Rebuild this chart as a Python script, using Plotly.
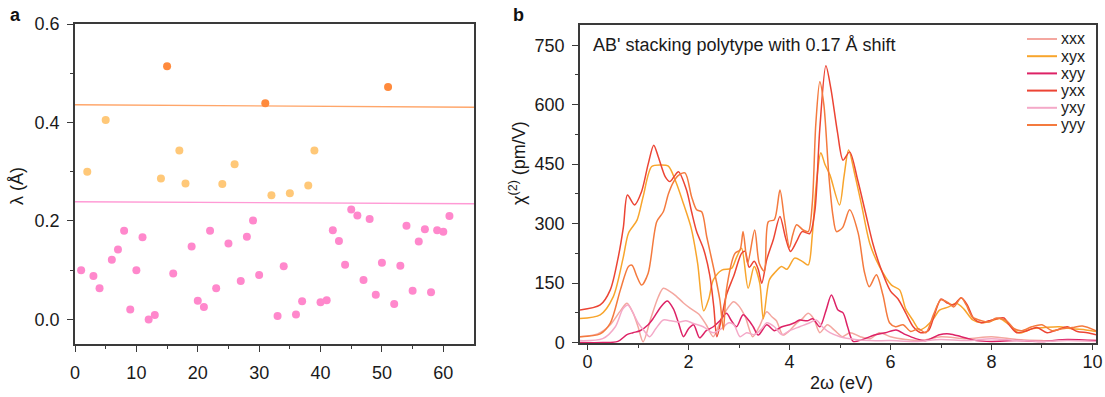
import plotly.graph_objects as go

W, H = 1105, 397
FONT = "Arial, Liberation Sans, sans-serif"

def px(X):
    return X / W

def py(Y):
    return 1 - Y / H

# ---------------- Panel a data ----------------
pink_x = [1, 3, 4, 6, 7, 8, 9, 10, 11, 12, 13, 16, 19, 20, 21, 22, 23, 25, 27, 28, 29, 30,
          33, 34, 36, 37, 40, 41, 42, 43, 44, 45, 46, 47, 48, 49, 50, 52, 53, 54, 55, 56,
          57, 58, 59, 60, 61]
pink_y = [0.100, 0.088, 0.063, 0.121, 0.142, 0.180, 0.020, 0.100, 0.167, 0.000, 0.009, 0.093,
          0.148, 0.038, 0.025, 0.180, 0.063, 0.154, 0.078, 0.168, 0.201, 0.090,
          0.007, 0.108, 0.010, 0.037, 0.035, 0.039, 0.181, 0.159, 0.111, 0.223, 0.211, 0.080,
          0.204, 0.050, 0.115, 0.031, 0.109, 0.190, 0.058, 0.158, 0.183, 0.055, 0.181, 0.178,
          0.210]
light_x = [2, 5, 14, 17, 18, 24, 26, 32, 35, 38, 39]
light_y = [0.300, 0.405, 0.286, 0.343, 0.276, 0.275, 0.315, 0.252, 0.256, 0.272, 0.343]
dark_x = [15, 31, 51]
dark_y = [0.514, 0.439, 0.472]

line_x = [0, 65]
orange_line_y = [0.436, 0.431]
pink_line_y = [0.239, 0.235]

# ---------------- Panel b data ----------------
names = ["xxx", "xyx", "xyy", "yxx", "yxy", "yyy"]
colors = ["#F4A7A0", "#F8A52C", "#DD2266", "#EC4434", "#F4A9C8", "#F47A3E"]

xxx_x = [-0.15, 0.2, 0.45, 0.65, 0.78, 0.9, 1.0, 1.1, 1.25, 1.4, 1.5, 1.62, 1.75, 1.9, 2.03,
         2.2, 2.35, 2.49, 2.62, 2.75, 2.89, 2.98, 3.12, 3.27, 3.4, 3.55, 3.65, 3.74, 3.87, 4.0,
         4.14, 4.25, 4.37, 4.48, 4.6, 4.75, 4.9, 5.05, 5.2, 5.4, 5.6, 5.78, 6.0, 6.3, 6.6, 7.0,
         7.5, 8.0, 8.5, 9.0, 9.5, 10.07]
xxx_y = [15, 22, 45, 80, 99, 75, 40, 2, 60, 115, 137, 130, 118, 100, 87, 72, 45, 15, 50, 82,
         103, 95, 66, 15, 40, 78, 65, 55, 19, 30, 49, 60, 74, 60, 25, 45, 30, 15, 25, 15, 10,
         25, 15, 8, 5, 15, 10, 15, 8, 5, 6, 5]

xyx_x = [-0.15, 0.25, 0.51, 0.71, 0.81, 0.98, 1.1, 1.27, 1.45, 1.6, 1.75, 1.9, 2.05, 2.18,
         2.3, 2.4, 2.49, 2.66, 2.85, 2.95, 3.05, 3.18, 3.3, 3.41, 3.48, 3.6, 3.72, 3.84, 3.95,
         4.1, 4.25, 4.37, 4.45, 4.53, 4.62, 4.7, 4.8, 4.99, 5.08, 5.17, 5.3, 5.42, 5.59, 5.78,
         6.02, 6.18, 6.3, 6.44, 6.58, 6.7, 6.85, 6.97, 7.15, 7.3, 7.45, 7.63, 7.8, 7.96, 8.16,
         8.35, 8.55, 8.8, 9.05, 9.34, 9.6, 9.87, 10.07]
xyx_y = [61, 70, 116, 217, 276, 309, 368, 444, 448, 445, 405, 350, 290, 200, 80, 110, 158, 183,
         187, 215, 238, 137, 192, 150, 60, 158, 178, 192, 185, 213, 205, 196, 270, 400, 479,
         450, 423, 347, 420, 486, 420, 351, 250, 192, 145, 133, 85, 57, 32, 40, 60, 82, 90, 99,
         85, 57, 50, 53, 61, 45, 24, 35, 38, 40, 35, 32, 28]

xyy_x = [-0.15, 0.3, 0.6, 0.78, 0.9, 1.04, 1.2, 1.3, 1.45, 1.58, 1.7, 1.8, 1.9, 2.0, 2.1, 2.22,
         2.35, 2.49, 2.62, 2.75, 2.85, 2.95, 3.08, 3.2, 3.28, 3.38, 3.55, 3.7, 3.85, 4.0, 4.1,
         4.2, 4.35, 4.46, 4.6, 4.72, 4.83, 4.96, 5.06, 5.15, 5.26, 5.45, 5.7, 5.9, 6.11, 6.3,
         6.5, 6.7, 6.97, 7.17, 7.4, 7.7, 8.0, 8.5, 9.0, 9.5, 10.07]
xyy_y = [0, 0, 3, 20, 25, 30, 45, 61, 90, 105, 85, 50, 15, 35, 45, 12, 30, 40, 55, 74, 55, 40,
         70, 55, 40, 19, 45, 30, 40, 45, 50, 57, 55, 60, 40, 80, 120, 82, 75, 40, 3, 8, 20, 25,
         32, 20, 10, 5, 20, 22, 15, 5, 3, 5, 3, 8, 5]

yxx_x = [-0.15, 0.25, 0.45, 0.61, 0.71, 0.79, 0.93, 1.07, 1.2, 1.31, 1.4, 1.54, 1.63, 1.72,
         1.8, 1.96, 2.06, 2.16, 2.3, 2.42, 2.5, 2.56, 2.65, 2.75, 2.9, 3.05, 3.12, 3.2, 3.3,
         3.38, 3.45, 3.55, 3.68, 3.81, 3.92, 4.02, 4.14, 4.25, 4.4, 4.5, 4.6, 4.72, 4.82, 4.95,
         5.06, 5.19, 5.35, 5.5, 5.65, 5.8, 6.0, 6.15, 6.3, 6.45, 6.6, 6.75, 6.87, 7.0, 7.12,
         7.25, 7.4, 7.52, 7.65, 7.8, 7.95, 8.1, 8.25, 8.35, 8.5, 8.7, 8.9, 9.1, 9.3, 9.5, 9.7,
         9.9, 10.07]
yxx_y = [82, 95, 133, 217, 292, 372, 347, 381, 450, 498, 469, 418, 406, 420, 431, 385, 330,
         280, 235, 170, 90, 15, 60, 120, 170, 225, 230, 190, 205, 185, 150, 210, 260, 318, 265,
         230, 255, 280, 275, 330, 540, 698, 640, 530, 460, 481, 410, 330, 250, 190, 130, 110,
         75, 40, 25, 30, 70, 110, 100, 95, 113, 95, 60, 50, 55, 60, 62, 45, 25, 30, 38, 25, 32,
         40, 28, 25, 20]

yxy_x = [-0.15, 0.3, 0.55, 0.7, 0.8, 0.9, 1.0, 1.12, 1.23, 1.35, 1.5, 1.65, 1.8, 1.95, 2.1,
         2.29, 2.49, 2.65, 2.8, 2.9, 3.02, 3.15, 3.3, 3.45, 3.55, 3.7, 3.85, 4.0, 4.2, 4.4,
         4.53, 4.65, 4.8, 5.0, 5.3, 5.6, 6.0, 6.5, 7.0, 7.5, 8.0, 8.5, 9.0, 9.5, 10.07]
yxy_y = [5, 10, 40, 85, 95, 75, 50, 30, 15, 35, 57, 55, 52, 55, 48, 40, 25, 35, 50, 45, 15, 25,
         20, 35, 50, 40, 20, 30, 40, 50, 57, 40, 25, 15, 8, 5, 5, 3, 8, 5, 10, 5, 3, 5, 3]

yyy_x = [-0.15, 0.25, 0.45, 0.65, 0.81, 0.88, 0.98, 1.07, 1.2, 1.37, 1.5, 1.6, 1.7, 1.8, 1.93,
         2.06, 2.16, 2.26, 2.36, 2.49, 2.62, 2.69, 2.75, 2.92, 3.02, 3.08, 3.17, 3.31, 3.4, 3.5,
         3.58, 3.7, 3.81, 3.9, 4.0, 4.06, 4.14, 4.27, 4.37, 4.45, 4.52, 4.6, 4.68, 4.78, 4.86,
         4.93, 5.05, 5.19, 5.36, 5.48, 5.58, 5.72, 5.85, 5.98, 6.1, 6.25, 6.4, 6.55, 6.7, 6.85,
         7.0, 7.15, 7.25, 7.4, 7.5, 7.62, 7.8, 7.95, 8.1, 8.3, 8.45, 8.6, 8.8, 9.0, 9.2, 9.4,
         9.6, 9.8, 10.07]
yyy_y = [15, 22, 49, 133, 192, 195, 166, 145, 175, 305, 330, 375, 405, 422, 428, 368, 335, 330,
         267, 192, 108, 32, 133, 225, 234, 280, 200, 284, 200, 180, 305, 310, 385, 310, 240,
         270, 297, 284, 280, 350, 550, 658, 600, 420, 320, 280, 290, 335, 276, 180, 141, 171,
         120, 50, 40, 45, 28, 35, 25, 70, 108, 100, 90, 113, 95, 65, 55, 52, 62, 55, 35, 30, 40,
         45, 30, 35, 38, 42, 30]

series_x = [xxx_x, xyx_x, xyy_x, yxx_x, yxy_x, yyy_x]
series_y = [xxx_y, xyx_y, xyy_y, yxx_y, yxy_y, yyy_y]

# ---------------- Figure ----------------
fig = go.Figure()

# panel a lines
fig.add_trace(go.Scatter(x=line_x, y=orange_line_y, mode="lines",
                         line=dict(color="#FFA66A", width=1.4), xaxis="x", yaxis="y",
                         showlegend=False, hoverinfo="skip"))
fig.add_trace(go.Scatter(x=line_x, y=pink_line_y, mode="lines",
                         line=dict(color="#FF9AD5", width=1.4), xaxis="x", yaxis="y",
                         showlegend=False, hoverinfo="skip"))
# panel a points
for gx, gy, c in [(pink_x, pink_y, "#FF88CC"), (light_x, light_y, "#FFC878"),
                  (dark_x, dark_y, "#FF8A3C")]:
    fig.add_trace(go.Scatter(x=gx, y=gy, mode="markers",
                             marker=dict(color=c, size=8, line=dict(width=0)),
                             xaxis="x", yaxis="y", showlegend=False))

# panel b curves
for nm, c, sx, sy in zip(names, colors, series_x, series_y):
    fig.add_trace(go.Scatter(x=sx, y=sy, mode="lines", name=nm,
                             line=dict(color=c, width=1.5, shape="spline", smoothing=0.8),
                             xaxis="x2", yaxis="y2", showlegend=False))

TICKFONT = dict(family=FONT, size=18, color="#1a1a1a")
axis_common = dict(showgrid=False, zeroline=False, showline=True, linecolor="#3a3a3a",
                   linewidth=1.5, mirror=True, ticks="outside", tickcolor="#3a3a3a",
                   tickwidth=1.3, automargin=False, tickfont=TICKFONT)

fig.update_layout(
    template="none",
    width=W, height=H, autosize=False,
    margin=dict(l=0, r=0, t=0, b=0, pad=0, autoexpand=False),
    paper_bgcolor="white", plot_bgcolor="white",
    showlegend=False,
    xaxis=dict(domain=[px(75), px(474)], range=[0, 65], tickvals=[0, 10, 20, 30, 40, 50, 60],
               ticklen=6, ticklabelstandoff=6,
               minor=dict(tickvals=[5, 15, 25, 35, 45, 55], ticks="outside", ticklen=3,
                          tickcolor="#3a3a3a", tickwidth=1.2),
               anchor="y", **axis_common),
    yaxis=dict(domain=[py(344), py(24)], range=[-0.05, 0.6], tickvals=[0, 0.2, 0.4, 0.6],
               tickformat=".1f", ticklen=6, ticklabelstandoff=4,
               minor=dict(tickvals=[0.1, 0.3, 0.5], ticks="outside", ticklen=3,
                          tickcolor="#3a3a3a", tickwidth=1.2),
               anchor="x", **axis_common),
    xaxis2=dict(domain=[px(580), px(1096)], range=[-0.15, 10.07],
                tickvals=[0, 2, 4, 6, 8, 10], ticklen=5, ticklabelstandoff=-3,
                minor=dict(tickvals=[1, 3, 5, 7, 9], ticks="outside", ticklen=3,
                           tickcolor="#3a3a3a", tickwidth=1.2),
                anchor="y2", **axis_common),
    yaxis2=dict(domain=[py(343), py(25)], range=[-1, 801],
                tickvals=[0, 150, 300, 450, 600, 750], ticklen=6, ticklabelstandoff=4,
                minor=dict(tickvals=[75, 225, 375, 525, 675], ticks="outside", ticklen=3,
                           tickcolor="#3a3a3a", tickwidth=1.2),
                anchor="x2", **axis_common),
)

def note(text, X, Y, size=18, xa="center", ya="middle", angle=0, bold=False):
    return dict(text=text, x=px(X), y=py(Y), xref="paper", yref="paper",
                xanchor=xa, yanchor=ya, textangle=angle, showarrow=False, borderpad=0,
                font=dict(family=FONT, size=size, color="#111" if bold else "#1a1a1a"))

ann = []
ann.append(note("<b>a</b>", 15, 15, size=18, bold=True))
ann.append(note("<b>b</b>", 518, 15, size=18, bold=True))
ann.append(note("λ (Å)", 17, 186, angle=-90))
ann.append(note("χ<sup>(2)</sup> (pm/V)", 517, 163, angle=-90))
ann.append(note("2ω (eV)", 841, 383))
ann.append(note("AB' stacking polytype with 0.17 Å shift", 592, 45, xa="left"))

shapes = []
for i, (nm, c) in enumerate(zip(names, colors)):
    yy = 39 + 17.2 * i
    shapes.append(dict(type="line", xref="paper", yref="paper", x0=px(1027), x1=px(1057),
                       y0=py(yy), y1=py(yy), line=dict(color=c, width=2)))
    ann.append(note(nm, 1060, yy, size=16, xa="left"))

fig.update_layout(annotations=ann, shapes=shapes)
fig.write_html("out.html")
